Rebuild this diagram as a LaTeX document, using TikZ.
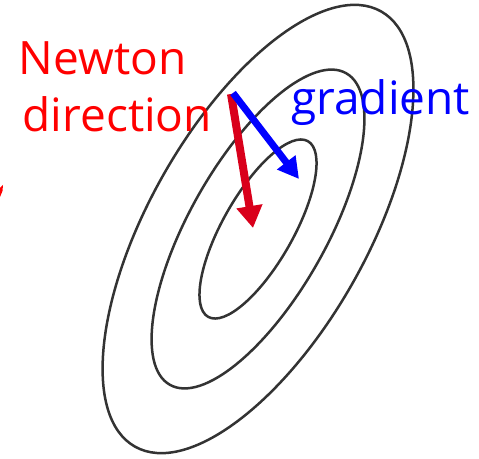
\documentclass[tikz,border=0pt]{standalone}
\usepackage{fontspec}
\setmainfont{Open Sans}
\usetikzlibrary{arrows.meta}
\definecolor{contour}{HTML}{333333}
\definecolor{newtonarrow}{HTML}{D9001B}
\definecolor{labelred}{HTML}{FF0000}
\definecolor{gradblue}{HTML}{0000FF}
\begin{document}
\begin{tikzpicture}[x=1pt,y=1pt,
  level/.style={draw=contour,line width=2.5pt},
  lbl/.style={inner sep=0pt,anchor=base west,font=\fontsize{46}{55}\selectfont},
  newtonstyle/.style={draw=newtonarrow,line width=8pt,-{Triangle[length=22pt,width=25pt]}},
  gradstyle/.style={draw=gradblue,line width=7pt,-{Triangle[length=21pt,width=22pt]}}]
\useasboundingbox (0,0) rectangle (479,458);
\coordinate (c) at (258,229);
\draw[level,rotate around={60.5:(c)}] (c) ellipse [x radius=250, y radius=109];
\draw[level,rotate around={60.5:(c)}] (c) ellipse [x radius=179, y radius=68.5];
\draw[level,rotate around={60.4:(c)}] (c) ellipse [x radius=101, y radius=35.2];
\node[lbl,text=labelred] (newton) at (18.5,383) {Newton};
\node[lbl,text=labelred] (direction) at (22.5,326) {direction};
\node[lbl,text=gradblue] (gradient) at (291,343) {gradient};
\coordinate (ns) at (231,364);
\coordinate (nt) at (253,230);
\coordinate (gs) at (233,365);
\coordinate (gt) at (299,279);
\draw[newtonstyle] (ns) -- (nt);
\draw[gradstyle] (gs) -- (gt);
\fill[labelred] (0,261) -- (0,270) -- (3,273) -- (2.5,267) -- cycle;
\end{tikzpicture}
\end{document}
